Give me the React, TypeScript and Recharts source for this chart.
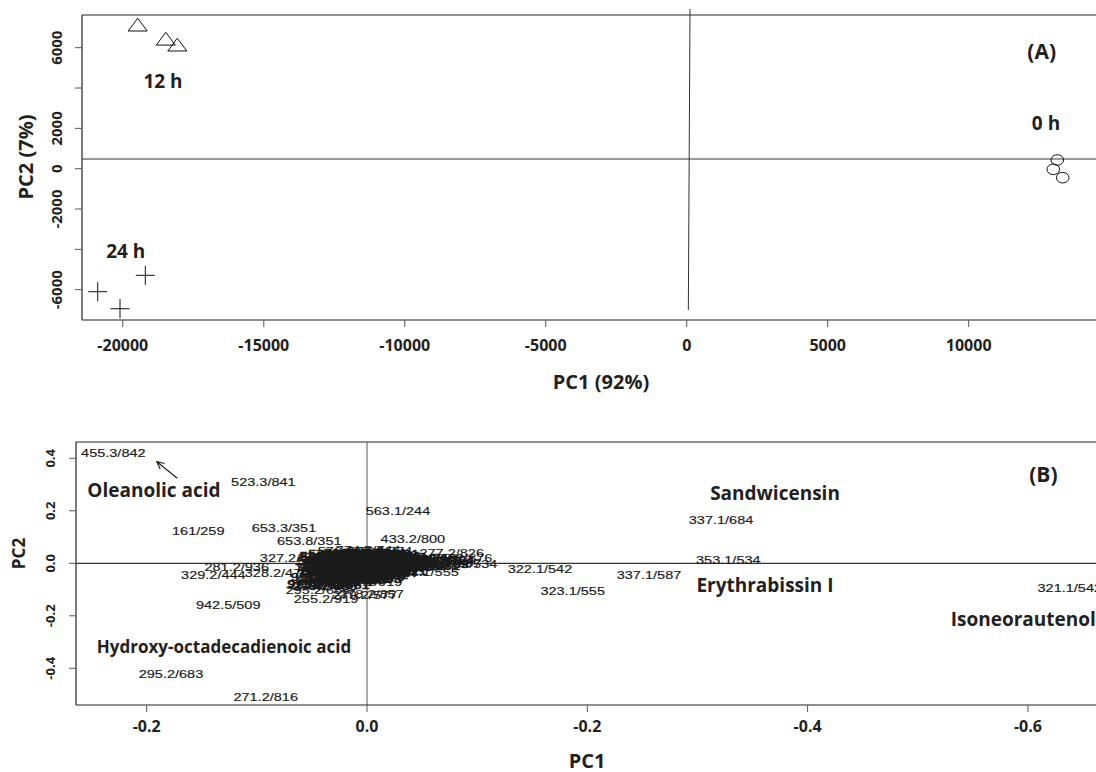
import React from "react";
import { ScatterChart, Scatter, XAxis, YAxis, ReferenceLine } from "recharts";

const BOLD = '"Open Sans", "Noto Sans", "DejaVu Sans", sans-serif';
const PLAIN = '"Liberation Sans", Arial, sans-serif';
const INK = "#231f20";

// ---------------- Panel A : PCA scores ----------------
const SCORES_0H = [
  { x: 13142, y: 431 },
  { x: 13000, y: -30 },
  { x: 13333, y: -446 },
];
const SCORES_12H = [
  { x: -19472, y: 7140 },
  { x: -18475, y: 6441 },
  { x: -18067, y: 6149 },
];
const SCORES_24H = [
  { x: -19202, y: -5286 },
  { x: -20890, y: -6099 },
  { x: -20099, y: -6942 },
];
const A_GROUP_LABELS = [
  { x: -18574, y: 4349, text: "12 h" },
  { x: -19897, y: -4115, text: "24 h" },
  { x: 12741, y: 2266, text: "0 h" },
];
const A_PANEL_TAG = [{ x: 12588, y: 5802, text: "(A)" }];
const A_X_TICKS = [-20000, -15000, -10000, -5000, 0, 5000, 10000];
const A_X_TICK_LABELS = ["-20000", "-15000", "-10000", "-5000", "0", "5000", "10000"];
const A_Y_TICKS = [-6000, -4000, -2000, 0, 2000, 4000, 6000];
const A_Y_TICK_LABELS = ["-6000", "", "-2000", "0", "2000", "", "6000"];
const A_X_DOMAIN = [-21447, 14515];
const A_Y_DOMAIN = [-7502, 7621];
const A_HLINE_Y = 481;
const A_VLINE = [
  { x: 117, y: 7920 },
  { x: 57, y: -7007 },
];

// ---------------- Panel B : loadings ----------------
const B_X_TICKS = [0.2, 0.0, -0.2, -0.4, -0.6];
const B_X_TICK_LABELS = ["-0.2", "0.0", "-0.2", "-0.4", "-0.6"];
const B_Y_TICKS = [-0.4, -0.2, 0.0, 0.2, 0.4];
const B_Y_TICK_LABELS = ["-0.4", "-0.2", "0.0", "0.2", "0.4"];
const B_X_DOMAIN = [-0.6618, 0.2642];
const B_Y_DOMAIN = [-0.5398, 0.4621];

const FEATURES_OUTER: [number, number, string][] = [
  [0.2303, 0.419, "455.3/842"],
  [0.0941, 0.311, "523.3/841"],
  [0.1532, 0.124, "161/259"],
  [0.0754, 0.133, "653.3/351"],
  [0.0524, 0.085, "653.8/351"],
  [0.068, 0.021, "327.2/455"],
  [0.1183, -0.015, "281.2/936"],
  [0.1395, -0.047, "329.2/444"],
  [0.0817, -0.037, "328.2/470"],
  [0.0345, -0.013, "959.5/470"],
  [-0.0281, 0.199, "563.1/244"],
  [-0.0416, 0.0914, "433.2/800"],
  [-0.0769, 0.04, "277.2/826"],
  [-0.157, -0.023, "322.1/542"],
  [-0.1867, -0.1055, "323.1/555"],
  [-0.256, -0.0446, "337.1/587"],
  [-0.3214, 0.165, "337.1/684"],
  [-0.328, 0.0126, "353.1/534"],
  [-0.638, -0.093, "321.1/542"],
  [0.126, -0.159, "942.5/509"],
  [0.178, -0.423, "295.2/683"],
  [0.092, -0.511, "271.2/816"],
  [0.0372, -0.136, "255.2/919"],
  [0.002, -0.121, "279.2/577"],
  [-0.004, -0.118, "278.2/857"],
  [0.0427, -0.083, "293.2/683"],
  [0.0445, -0.101, "295.2/685"],
  [-0.0027, -0.07, "301.1/919"],
  [-0.054, -0.032, "341.1/555"],
  [-0.0845, 0.019, "285.2/676"],
  [-0.089, -0.004, "297.2/534"],
  [-0.075, 0.001, "311.1/587"],
  [0.0154, 0.047, "576.3/564"],
  [-0.001, 0.051, "774.5/744"],
  [-0.0118, 0.047, "587.2/774"],
];

const FEATURES_CLUSTER: [number, number, string][] = [
  [0.024, 0.034, "576.3/566"],
  [0.01, 0.04, "564.2/774"],
  [-0.006, 0.039, "774.4/744"],
  [-0.018, 0.033, "609.2/381"],
  [0.031, 0.022, "591.3/447"],
  [0.019, 0.026, "463.1/402"],
  [0.007, 0.029, "447.1/362"],
  [-0.003, 0.025, "593.2/385"],
  [-0.013, 0.028, "625.2/329"],
  [-0.024, 0.022, "269.1/645"],
  [-0.034, 0.015, "283.1/703"],
  [-0.044, 0.01, "255.1/689"],
  [0.034, 0.008, "577.1/298"],
  [0.022, 0.012, "431.2/412"],
  [0.012, 0.016, "449.1/390"],
  [0.002, 0.01, "565.2/415"],
  [-0.008, 0.017, "609.3/297"],
  [-0.017, 0.008, "301.1/689"],
  [-0.027, 0.004, "285.1/702"],
  [-0.037, -0.001, "269.1/712"],
  [-0.048, 0.003, "313.1/667"],
  [0.03, -0.006, "739.2/376"],
  [0.02, -0.002, "577.2/420"],
  [0.01, -0.009, "417.1/455"],
  [0.0, -0.004, "579.2/352"],
  [-0.01, -0.011, "593.1/401"],
  [-0.02, -0.007, "447.1/468"],
  [-0.03, -0.013, "299.1/733"],
  [-0.041, -0.009, "329.1/612"],
  [0.036, -0.02, "755.2/331"],
  [0.026, -0.024, "625.1/377"],
  [0.015, -0.018, "563.1/386"],
  [0.005, -0.023, "431.1/493"],
  [-0.005, -0.028, "287.1/658"],
  [-0.015, -0.022, "315.1/674"],
  [-0.025, -0.03, "339.1/621"],
  [0.033, -0.038, "785.2/347"],
  [0.022, -0.034, "741.2/362"],
  [0.012, -0.041, "609.1/433"],
  [0.002, -0.036, "577.1/519"],
  [-0.008, -0.044, "463.1/541"],
  [-0.018, -0.039, "353.1/597"],
  [0.04, -0.052, "951.5/281"],
  [0.029, -0.057, "303.2/793"],
  [0.018, -0.05, "313.2/844"],
  [0.008, -0.055, "289.1/561"],
  [-0.002, -0.061, "271.1/603"],
  [0.035, -0.068, "293.2/806"],
  [0.024, -0.072, "311.2/874"],
  [0.013, -0.066, "297.2/823"],
  [0.043, -0.078, "925.5/498"],
  [0.016, 0.032, "481.1/355"],
  [0.004, 0.034, "611.2/318"],
  [-0.01, 0.036, "757.2/303"],
  [0.027, 0.015, "495.1/371"],
  [0.015, 0.02, "433.1/426"],
  [0.004, 0.019, "595.2/344"],
  [-0.006, 0.022, "465.1/379"],
  [-0.016, 0.016, "303.1/684"],
  [-0.026, 0.012, "317.1/691"],
  [0.025, 0.004, "449.1/407"],
  [0.014, 0.006, "611.1/343"],
  [0.005, 0.001, "287.1/615"],
  [-0.005, 0.005, "435.1/433"],
  [-0.014, 0.0, "609.1/369"],
  [-0.023, -0.003, "271.1/698"],
  [0.028, -0.013, "771.2/351"],
  [0.018, -0.01, "625.2/365"],
  [0.008, -0.015, "579.1/404"],
  [-0.002, -0.012, "447.2/442"],
  [-0.012, -0.017, "301.2/709"],
  [-0.022, -0.019, "285.2/724"],
  [0.031, -0.03, "801.2/338"],
  [0.02, -0.027, "639.2/372"],
  [0.01, -0.031, "593.2/418"],
  [0.0, -0.033, "419.1/487"],
  [-0.01, -0.035, "273.1/662"],
  [0.025, -0.045, "769.2/355"],
  [0.015, -0.047, "317.2/812"],
  [0.005, -0.048, "299.2/835"],
  [-0.005, -0.052, "327.1/579"],
  [0.03, -0.062, "277.2/849"],
  [0.019, -0.063, "295.2/818"],
  [0.009, -0.06, "283.2/790"],
  [0.038, -0.086, "279.2/835"],
  [0.027, -0.082, "297.2/861"],
  [0.017, 0.003, "445.1/418"],
  [-0.001, 0.013, "573.2/392"],
  [0.021, -0.016, "591.2/395"],
  [0.011, -0.024, "433.2/466"],
  [-0.016, -0.031, "291.1/645"],
  [-0.03, 0.007, "327.1/688"],
  [-0.035, -0.006, "343.1/667"],
  [-0.045, -0.004, "299.1/707"],
  [0.032, 0.029, "529.3/422"],
  [-0.02, 0.027, "559.2/341"],
  [-0.052, 0.018, "353.1/716"],
  [-0.058, 0.008, "337.1/725"],
  [-0.063, -0.002, "323.1/739"],
  [-0.055, -0.012, "309.1/681"],
  [-0.068, 0.012, "331.1/704"],
  [0.013, 0.011, "517.2/406"],
  [0.003, 0.004, "489.1/421"],
  [-0.007, -0.001, "505.2/398"],
  [0.019, -0.021, "533.2/389"],
  [0.009, -0.004, "461.1/437"],
  [-0.001, -0.019, "407.1/476"],
  [0.006, 0.013, "547.2/377"],
  [-0.011, 0.009, "619.3/326"],
  [0.016, -0.038, "661.2/359"],
  [0.001, -0.046, "345.1/601"],
  [0.022, -0.06, "287.2/796"],
  [-0.019, -0.012, "331.1/633"],
  [-0.027, 0.017, "297.1/696"],
  [0.028, 0.001, "603.2/367"],
  [0.011, 0.022, "497.2/411"],
];

const B_COMPOUNDS = [
  { x: 0.1934, y: 0.2792, text: "Oleanolic acid" },
  { x: -0.3704, y: 0.2667, text: "Sandwicensin" },
  { x: -0.3613, y: -0.0827, text: "Erythrabissin I" },
  { x: -0.5958, y: -0.2133, text: "Isoneorautenol" },
];
const B_COMPOUND_LONG = [{ x: 0.1298, y: -0.3177, text: "Hydroxy-octadecadienoic acid" }];
const B_PANEL_TAG = [{ x: -0.614, y: 0.3364, text: "(B)" }];
const B_ARROW = [
  { x: 0.1722, y: 0.3238 },
  { x: 0.1909, y: 0.387 },
];

const toPoints = (rows: [number, number, string][]) =>
  rows.map(([x, y, text]) => ({ x, y, text }));

const labelFor = (ticks: number[], labels: string[], v: number) => {
  const i = ticks.findIndex((t) => Math.abs(t - v) < 1e-9);
  return i >= 0 ? labels[i] : String(v);
};

// ---------------- shapes ----------------
const TriangleShape = (p: any) =>
  p.cx == null ? (
    <g />
  ) : (
    <path
      d={`M${p.cx},${p.cy - 6.5} L${p.cx + 9.5},${p.cy + 6.3} L${p.cx - 9.5},${p.cy + 6.3} Z`}
      fill="none"
      stroke="#111"
      strokeWidth={1}
    />
  );

const CrossShape = (p: any) =>
  p.cx == null ? (
    <g />
  ) : (
    <path
      d={`M${p.cx - 9.5},${p.cy} H${p.cx + 9.5} M${p.cx},${p.cy - 9.5} V${p.cy + 9.5}`}
      fill="none"
      stroke="#111"
      strokeWidth={1}
    />
  );

const CircleShape = (p: any) =>
  p.cx == null ? (
    <g />
  ) : (
    <ellipse cx={p.cx} cy={p.cy} rx={6.3} ry={5.3} fill="none" stroke="#111" strokeWidth={1} />
  );

const textShape =
  (size: number, family: string, weight: string | number, scaleX = 1, color = INK, strokeW = 0) =>
  (p: any) =>
    p.cx == null ? (
      <g />
    ) : (
      <text
        transform={`translate(${p.cx},${p.cy}) scale(${scaleX},1)`}
        x={0}
        y={0}
        dy="0.35em"
        textAnchor="middle"
        fontSize={size}
        fontFamily={family}
        fontWeight={weight}
        fill={color}
        stroke={strokeW > 0 ? color : "none"}
        strokeWidth={strokeW}
      >
        {p.payload.text}
      </text>
    );

const ArrowShape = (p: any) => {
  const { x1, y1, x2, y2 } = p;
  if (x1 == null) return <g />;
  const a = Math.atan2(y2 - y1, x2 - x1);
  const L = 8;
  const s = 0.45;
  const hx1 = x2 - L * Math.cos(a - s);
  const hy1 = y2 - L * Math.sin(a - s);
  const hx2 = x2 - L * Math.cos(a + s);
  const hy2 = y2 - L * Math.sin(a + s);
  return (
    <path
      d={`M${x1},${y1} L${x2},${y2} M${hx1},${hy1} L${x2},${y2} L${hx2},${hy2}`}
      stroke="#222"
      strokeWidth={1.2}
      fill="none"
    />
  );
};

const makeXTick = (ticks: number[], labels: string[], dy: number, size: number) => (p: any) => (
  <text
    x={p.x}
    y={p.y + dy}
    dy="0.35em"
    textAnchor="middle"
    fontSize={size}
    fontFamily={BOLD}
    fontWeight={700}
    fill={INK}
  >
    {labelFor(ticks, labels, p.payload.value)}
  </text>
);

const makeYTick = (ticks: number[], labels: string[], dx: number, size: number) => (p: any) => {
  const cx = p.x + dx;
  return (
    <text
      x={cx}
      y={p.y}
      dy="0.35em"
      transform={`rotate(-90 ${cx} ${p.y})`}
      textAnchor="middle"
      fontSize={size}
      fontFamily={BOLD}
      fontWeight={700}
      fill={INK}
    >
      {labelFor(ticks, labels, p.payload.value)}
    </text>
  );
};

const title = (text: string, x: number, y: number, size: number, rotate = false) => () => (
  <text
    x={x}
    y={y}
    dy="0.35em"
    textAnchor="middle"
    transform={rotate ? `rotate(-90 ${x} ${y})` : undefined}
    fontSize={size}
    fontFamily={BOLD}
    fontWeight={700}
    fill={INK}
  >
    {text}
  </text>
);

export default function App() {
  return (
    <div style={{ position: "absolute", left: 0, top: 0, width: 1096, height: 772, background: "#fff" }}>
      <div style={{ position: "absolute", left: 0, top: 0 }}>
        <ScatterChart width={1096} height={430} margin={{ top: 15, right: 0, bottom: 0, left: 0 }}>
          <XAxis
            type="number"
            dataKey="x"
            domain={A_X_DOMAIN}
            allowDataOverflow
            ticks={A_X_TICKS}
            interval={0}
            height={110}
            tickSize={7}
            axisLine={{ stroke: "#222", strokeWidth: 1.2 }}
            tickLine={{ stroke: "#555" }}
            tick={makeXTick(A_X_TICKS, A_X_TICK_LABELS, 16, 16)}
            label={{ content: title("PC1 (92%)", 601, 382, 20) }}
          />
          <YAxis
            type="number"
            dataKey="y"
            domain={A_Y_DOMAIN}
            allowDataOverflow
            ticks={A_Y_TICKS}
            interval={0}
            width={82}
            tickSize={7}
            axisLine={{ stroke: "#222", strokeWidth: 1.2 }}
            tickLine={{ stroke: "#555" }}
            tick={makeYTick(A_Y_TICKS, A_Y_TICK_LABELS, -16.3, 15)}
            label={{ content: title("PC2 (7%)", 25.5, 157, 20, true) }}
          />
          <ReferenceLine y={A_Y_DOMAIN[1]} stroke="#222" strokeWidth={1.2} />
          <ReferenceLine y={A_HLINE_Y} stroke="#777" strokeWidth={1.6} />
          <ReferenceLine segment={A_VLINE} ifOverflow="visible" stroke="#333" strokeWidth={1} />
          <Scatter data={SCORES_12H} shape={TriangleShape} isAnimationActive={false} />
          <Scatter data={SCORES_24H} shape={CrossShape} isAnimationActive={false} />
          <Scatter data={SCORES_0H} shape={CircleShape} isAnimationActive={false} />
          <Scatter data={A_GROUP_LABELS} shape={textShape(19, BOLD, 700)} isAnimationActive={false} />
          <Scatter data={A_PANEL_TAG} shape={textShape(21, BOLD, 700)} isAnimationActive={false} />
        </ScatterChart>
      </div>
      <div style={{ position: "absolute", left: 0, top: 430 }}>
        <ScatterChart width={1096} height={342} margin={{ top: 12, right: 0, bottom: 0, left: 0 }}>
          <XAxis
            type="number"
            dataKey="x"
            reversed
            domain={B_X_DOMAIN}
            allowDataOverflow
            ticks={B_X_TICKS}
            interval={0}
            height={67}
            tickSize={7}
            axisLine={{ stroke: "#222", strokeWidth: 1.2 }}
            tickLine={{ stroke: "#555" }}
            tick={makeXTick(B_X_TICKS, B_X_TICK_LABELS, 12, 16)}
            label={{ content: title("PC1", 587, 331, 20) }}
          />
          <YAxis
            type="number"
            dataKey="y"
            domain={B_Y_DOMAIN}
            allowDataOverflow
            ticks={B_Y_TICKS}
            interval={0}
            width={76}
            tickSize={7}
            axisLine={{ stroke: "#222", strokeWidth: 1.2 }}
            tickLine={{ stroke: "#555" }}
            tick={makeYTick(B_Y_TICKS, B_Y_TICK_LABELS, -17, 13)}
            label={{ content: title("PC2", 19, 123.5, 17, true) }}
          />
          <ReferenceLine y={B_Y_DOMAIN[1]} stroke="#222" strokeWidth={1.2} />
          <ReferenceLine y={0} stroke="#333" strokeWidth={1.2} />
          <ReferenceLine x={0} stroke="#555" strokeWidth={1} />
          <ReferenceLine segment={B_ARROW} shape={ArrowShape} ifOverflow="visible" />
          <Scatter data={toPoints(FEATURES_CLUSTER)} shape={textShape(11, PLAIN, 400, 1.32, "#1a1a1a", 0.6)} isAnimationActive={false} />
          <Scatter data={toPoints(FEATURES_OUTER)} shape={textShape(11, PLAIN, 400, 1.32, "#1a1a1a", 0.15)} isAnimationActive={false} />
          <Scatter data={B_COMPOUNDS} shape={textShape(19, BOLD, 700)} isAnimationActive={false} />
          <Scatter data={B_COMPOUND_LONG} shape={textShape(17, BOLD, 700)} isAnimationActive={false} />
          <Scatter data={B_PANEL_TAG} shape={textShape(21, BOLD, 700)} isAnimationActive={false} />
        </ScatterChart>
      </div>
    </div>
  );
}
